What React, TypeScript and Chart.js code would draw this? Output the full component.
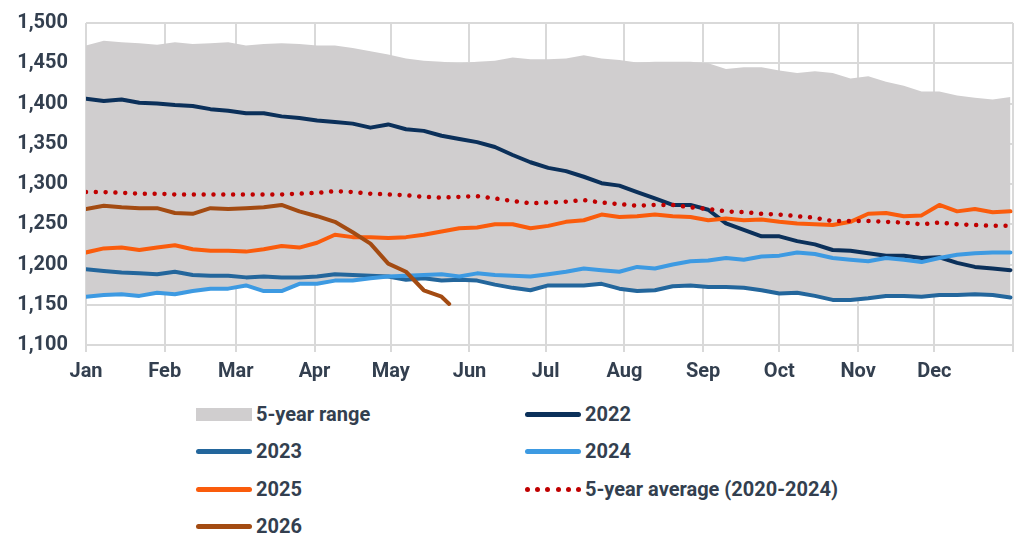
import React, { useEffect, useRef } from "react";
import { Chart, registerables } from "chart.js";

Chart.register(...registerables);

// Day-of-year sample points (weekly)
const WEEK_DAYS = [
  0, 7, 14, 21, 28, 35, 42, 49, 56, 63, 70, 77, 84, 91, 98, 105, 112, 119, 126, 133,
  140, 147, 154, 161, 168, 175, 182, 189, 196, 203, 210, 217, 224, 231, 238, 245, 252,
  259, 266, 273, 280, 287, 294, 301, 308, 315, 322, 329, 336, 343, 350, 357, 364,
];

const MONTHS = ["Jan", "Feb", "Mar", "Apr", "May", "Jun", "Jul", "Aug", "Sep", "Oct", "Nov", "Dec"];
const MONTH_START_DAYS = [0, 31, 59, 90, 120, 151, 181, 212, 243, 273, 304, 334, 365];

const RANGE_HIGH = [
  1472, 1478, 1476, 1475, 1473, 1476, 1474, 1475, 1476, 1472, 1474, 1475, 1474, 1472, 1472,
  1469, 1465, 1461, 1456, 1453, 1452, 1450, 1452, 1453, 1457, 1455, 1455, 1456, 1460, 1456,
  1454, 1451, 1452, 1452, 1452, 1450, 1443, 1445, 1445, 1441, 1438, 1440, 1438, 1431, 1434,
  1427, 1422, 1415, 1415, 1410, 1407, 1405, 1408,
];

const RANGE_LOW = [
  1159, 1161, 1162, 1160, 1164, 1162, 1166, 1169, 1169, 1173, 1166, 1166, 1175, 1175, 1179,
  1179, 1182, 1184, 1180, 1182, 1179, 1180, 1179, 1174, 1170, 1167, 1173, 1173, 1173, 1175,
  1169, 1166, 1167, 1172, 1173, 1171, 1171, 1170, 1167, 1163, 1164, 1160, 1155, 1155, 1157,
  1160, 1160, 1159, 1161, 1161, 1162, 1161, 1158,
];

const Y2022 = [
  1406, 1403, 1405, 1401, 1400, 1398, 1397, 1393, 1391, 1388, 1388, 1384, 1382, 1379, 1377,
  1375, 1370, 1374, 1368, 1366, 1360, 1356, 1352, 1346, 1336, 1327, 1320, 1316, 1309, 1301,
  1298, 1290, 1282, 1274, 1274, 1268, 1251, 1243, 1235, 1235, 1229, 1225, 1218, 1217, 1214,
  1211, 1211, 1208, 1209, 1202, 1197, 1195, 1193,
];

const Y2023 = [
  1194, 1192, 1190, 1189, 1188, 1191, 1187, 1186, 1186, 1184, 1185, 1184, 1184, 1185, 1188,
  1187, 1186, 1185, 1181, 1183, 1180, 1181, 1180, 1175, 1171, 1168, 1174, 1174, 1174, 1176,
  1170, 1167, 1168, 1173, 1174, 1172, 1172, 1171, 1168, 1164, 1165, 1161, 1156, 1156, 1158,
  1161, 1161, 1160, 1162, 1162, 1163, 1162, 1159,
];

const Y2024 = [
  1160, 1162, 1163, 1161, 1165, 1163, 1167, 1170, 1170, 1174, 1167, 1167, 1176, 1176, 1180,
  1180, 1183, 1185, 1186, 1187, 1188, 1185, 1189, 1187, 1186, 1185, 1188, 1191, 1195, 1193,
  1191, 1197, 1195, 1200, 1204, 1205, 1208, 1206, 1210, 1211, 1215, 1213, 1208, 1206, 1204,
  1208, 1206, 1203, 1208, 1212, 1214, 1215, 1215,
];

const Y2025 = [
  1215, 1220, 1221, 1218, 1221, 1224, 1219, 1217, 1217, 1216, 1219, 1223, 1221, 1227, 1237,
  1234, 1234, 1233, 1234, 1237, 1241, 1245, 1246, 1250, 1250, 1245, 1248, 1253, 1255, 1262,
  1259, 1260, 1262, 1260, 1259, 1255, 1257, 1255, 1256, 1253, 1251, 1250, 1249, 1253, 1263,
  1264, 1260, 1261, 1274, 1266, 1269, 1265, 1266,
];

const DAYS_2026 = [0, 7, 14, 21, 28, 35, 42, 49, 56, 63, 70, 77, 84, 91, 98, 105, 112, 119, 126, 133, 140, 143];
const Y2026 = [
  1269, 1273, 1271, 1270, 1270, 1264, 1263, 1270, 1269, 1270, 1271, 1274, 1266, 1260, 1253,
  1240, 1226, 1201, 1191, 1168, 1160, 1151,
];

const AVG_2020_2024 = [
  1290, 1290, 1289, 1288, 1288, 1287, 1287, 1287, 1287, 1287, 1287, 1287, 1288, 1289, 1291,
  1290, 1288, 1287, 1286, 1284, 1283, 1284, 1285, 1282, 1279, 1276, 1277, 1278, 1280, 1277,
  1275, 1273, 1274, 1274, 1271, 1269, 1266, 1265, 1263, 1262, 1260, 1258, 1254, 1254, 1254,
  1253, 1252, 1250, 1252, 1250, 1249, 1248, 1248,
];

const COLORS = {
  range: "#d0cecf",
  y2022: "#0b305a",
  y2023: "#23669c",
  y2024: "#3d9ae2",
  y2025: "#fa5c0c",
  y2026: "#a34b12",
  avg: "#c00000",
  text: "#333f4f",
  grid: "#d9d9d9",
};

const FONT_FAMILY = "Roboto, 'Noto Sans', sans-serif";

const toPoints = (days: number[], values: number[]) =>
  values.map((v, i) => ({ x: days[i], y: v }));

type LegendItem = { label: string; kind: "box" | "line" | "dots"; color: string };

const LEGEND_ROWS: LegendItem[][] = [
  [
    { label: "5-year range", kind: "box", color: COLORS.range },
    { label: "2022", kind: "line", color: COLORS.y2022 },
  ],
  [
    { label: "2023", kind: "line", color: COLORS.y2023 },
    { label: "2024", kind: "line", color: COLORS.y2024 },
  ],
  [
    { label: "2025", kind: "line", color: COLORS.y2025 },
    { label: "5-year average (2020-2024)", kind: "dots", color: COLORS.avg },
  ],
  [{ label: "2026", kind: "line", color: COLORS.y2026 }],
];

function Swatch({ item }: { item: LegendItem }) {
  if (item.kind === "box") {
    return <div style={{ width: 56, height: 13, background: item.color }} />;
  }
  if (item.kind === "dots") {
    return (
      <div style={{ width: 56, height: 5, display: "flex", justifyContent: "space-between" }}>
        {[0, 1, 2, 3, 4, 5].map((i) => (
          <div key={i} style={{ width: 5, height: 5, borderRadius: "50%", background: item.color }} />
        ))}
      </div>
    );
  }
  return <div style={{ width: 56, height: 5, borderRadius: 3, background: item.color }} />;
}

export default function App() {
  const canvasRef = useRef<HTMLCanvasElement | null>(null);

  useEffect(() => {
    const canvas = canvasRef.current;
    if (!canvas) return;
    const font = { family: FONT_FAMILY, size: 20, weight: "bold" as const };

    const chart = new Chart(canvas, {
      type: "line",
      data: {
        datasets: [
          {
            label: "5-year average (2020-2024)",
            data: toPoints(WEEK_DAYS, AVG_2020_2024),
            borderColor: COLORS.avg,
            borderWidth: 4.5,
            borderDash: [0.01, 9.8],
            borderCapStyle: "round",
            fill: false,
          },
          {
            label: "2026",
            data: toPoints(DAYS_2026, Y2026),
            borderColor: COLORS.y2026,
            borderWidth: 4,
            fill: false,
          },
          {
            label: "2025",
            data: toPoints(WEEK_DAYS, Y2025),
            borderColor: COLORS.y2025,
            borderWidth: 4,
            fill: false,
          },
          {
            label: "2024",
            data: toPoints(WEEK_DAYS, Y2024),
            borderColor: COLORS.y2024,
            borderWidth: 4,
            fill: false,
          },
          {
            label: "2023",
            data: toPoints(WEEK_DAYS, Y2023),
            borderColor: COLORS.y2023,
            borderWidth: 4,
            fill: false,
          },
          {
            label: "2022",
            data: toPoints(WEEK_DAYS, Y2022),
            borderColor: COLORS.y2022,
            borderWidth: 4,
            fill: false,
          },
          {
            label: "5-year range",
            data: toPoints(WEEK_DAYS, RANGE_HIGH),
            borderWidth: 0,
            borderColor: "rgba(0,0,0,0)",
            backgroundColor: COLORS.range,
            fill: "+1",
          },
          {
            label: "5-year range low",
            data: toPoints(WEEK_DAYS, RANGE_LOW),
            borderWidth: 0,
            borderColor: "rgba(0,0,0,0)",
            fill: false,
          },
        ],
      },
      options: {
        responsive: false,
        animation: false,
        devicePixelRatio: 1,
        layout: { padding: { left: 0, right: 23, top: 23, bottom: 0 } },
        elements: {
          point: { radius: 0, hoverRadius: 0 },
          line: { tension: 0, borderJoinStyle: "round", borderCapStyle: "round" },
        },
        plugins: {
          legend: { display: false },
          tooltip: { enabled: false },
          filler: { drawTime: "beforeDatasetsDraw" },
        },
        scales: {
          x: {
            type: "linear",
            min: 0,
            max: 365,
            afterBuildTicks: (scale: any) => {
              scale.ticks = MONTH_START_DAYS.map((v) => ({ value: v }));
            },
            afterFit: (scale: any) => {
              scale.height = 40;
            },
            ticks: {
              autoSkip: false,
              maxRotation: 0,
              padding: 8,
              color: COLORS.text,
              font,
              callback: (_v: any, i: number) => MONTHS[i] ?? "",
            },
            grid: { color: COLORS.grid, lineWidth: 2, drawTicks: true, tickLength: 7 },
            border: { display: false },
          },
          y: {
            min: 1100,
            max: 1500,
            afterFit: (scale: any) => {
              scale.width = 86;
              scale.paddingTop = 0;
              scale.paddingBottom = 0;
            },
            ticks: {
              stepSize: 50,
              padding: 18,
              color: COLORS.text,
              font,
              callback: (v: any) => Number(v).toLocaleString("en-US"),
            },
            grid: { color: COLORS.grid, lineWidth: 2, drawTicks: false },
            border: { display: false },
          },
        },
      },
    });
    return () => chart.destroy();
  }, []);

  const rowTops = [414, 451, 489, 526];
  const colLefts = [196, 525];

  return (
    <div style={{ position: "absolute", left: 0, top: 0, width: 1036, height: 555, background: "#fff" }}>
      <canvas
        ref={canvasRef}
        width={1036}
        height={385}
        style={{ position: "absolute", left: 0, top: 0, width: 1036, height: 385 }}
      />
      {LEGEND_ROWS.map((row, r) =>
        row.map((item, c) => (
          <div
            key={`${r}-${c}`}
            style={{
              position: "absolute",
              left: colLefts[c],
              top: rowTops[r] - 14,
              height: 28,
              display: "flex",
              alignItems: "center",
              gap: 4,
              fontFamily: FONT_FAMILY,
              fontWeight: 700,
              fontSize: 20,
              color: COLORS.text,
              whiteSpace: "nowrap",
            }}
          >
            <Swatch item={item} />
            <span>{item.label}</span>
          </div>
        ))
      )}
    </div>
  );
}
